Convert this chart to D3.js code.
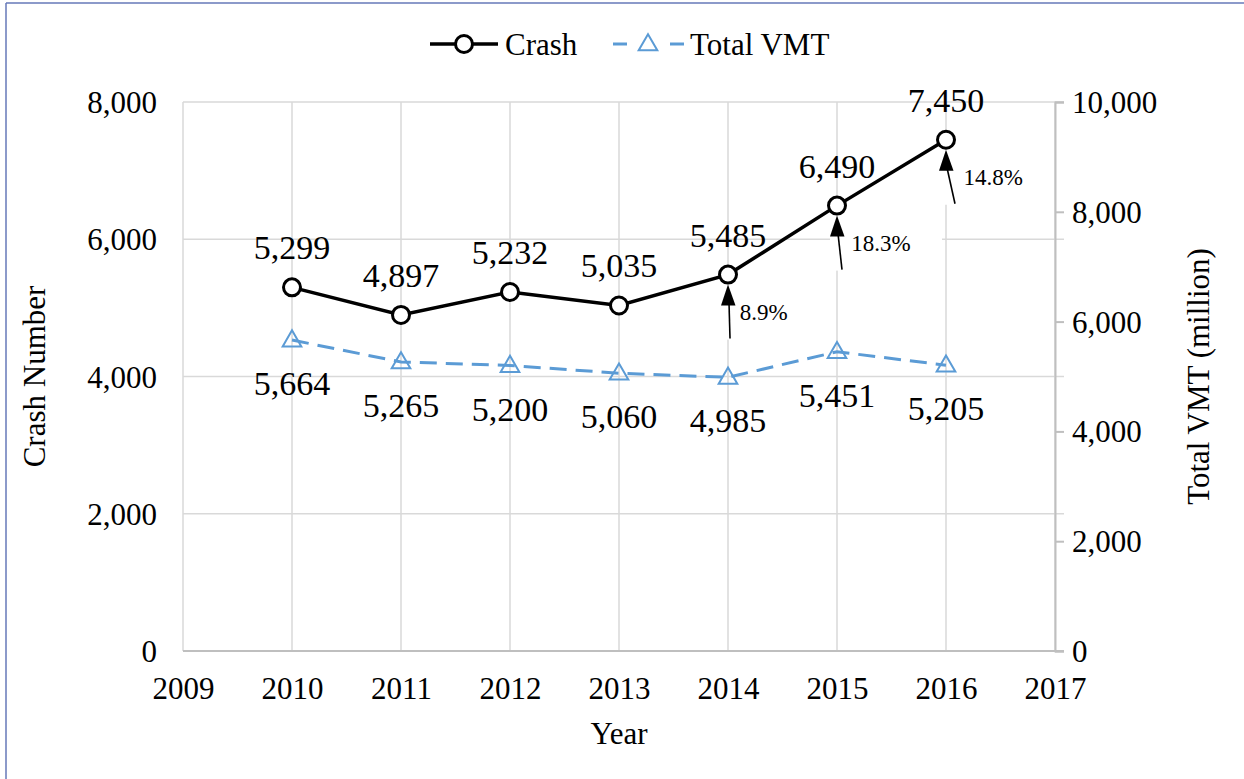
<!DOCTYPE html>
<html lang="en">
<head>
  <meta charset="UTF-8">
  <title>Crash Number and Total VMT</title>
  <style>
    body { margin: 0; background: #fff; }
    svg text { font-family: "Liberation Serif", "Times New Roman", serif; fill: #000; }
    .grid line { stroke: #d9d9d9; stroke-width: 1.5px; }
  </style>
</head>
<body>
  <svg width="1244" height="779"></svg>

  <script src="https://d3js.org/d3.v7.min.js"></script>
  <script>
    // data
    const years = [2010, 2011, 2012, 2013, 2014, 2015, 2016];
    const crash = [5299, 4897, 5232, 5035, 5485, 6490, 7450];
    const vmt = [5664, 5265, 5200, 5060, 4985, 5451, 5205];
    const xTicks = [2009, 2010, 2011, 2012, 2013, 2014, 2015, 2016, 2017];
    const leftTicks = [0, 2000, 4000, 6000, 8000];
    const rightTicks = [0, 2000, 4000, 6000, 8000, 10000];
    // growth annotations (year, label, lean of the arrow tail)
    const noteYears = [2014, 2015, 2016];
    const noteLabels = ["8.9%", "18.3%", "14.8%"];
    const noteLean = [1, 4, 8];

    const svg = d3.select("svg"),
          width = +svg.attr("width"),
          height = +svg.attr("height");

    const margin = { top: 102, right: 189, bottom: 128, left: 183 };
    const x = d3.scaleLinear().domain([2009, 2017]).range([margin.left, width - margin.right]);
    const yL = d3.scaleLinear().domain([0, 8000]).range([height - margin.bottom, margin.top]);
    const yR = d3.scaleLinear().domain([0, 10000]).range([height - margin.bottom, margin.top]);
    const fmt = d3.format(",");
    const blue = "#5b9bd5";

    // outer frame
    svg.append("line").attr("x1", 6).attr("x2", 6).attr("y1", 3).attr("y2", height)
      .attr("stroke", "#6678b8").attr("stroke-width", 1.5);
    svg.append("line").attr("x1", 6).attr("x2", width).attr("y1", 3).attr("y2", 3)
      .attr("stroke", "#6678b8").attr("stroke-width", 1.5);

    // gridlines
    const grid = svg.append("g").attr("class", "grid");
    grid.selectAll("line.h").data(leftTicks).join("line").attr("class", "h")
      .attr("x1", x(2009)).attr("x2", x(2017) + 9)
      .attr("y1", d => yL(d)).attr("y2", d => yL(d));
    grid.selectAll("line.v").data(xTicks).join("line").attr("class", "v")
      .attr("x1", d => x(d)).attr("x2", d => x(d))
      .attr("y1", yL(8000)).attr("y2", yL(0));

    // bottom axis line
    svg.append("line").attr("x1", x(2009)).attr("x2", x(2017) + 9)
      .attr("y1", yL(0)).attr("y2", yL(0))
      .attr("stroke", "#bfbfbf").attr("stroke-width", 2);

    // right axis
    const rAxis = svg.append("g")
      .attr("transform", `translate(${x(2017)},0)`)
      .call(d3.axisRight(yR).tickValues(rightTicks).tickSize(9).tickPadding(8).tickFormat(fmt));
    rAxis.select(".domain").attr("stroke", "#bfbfbf").attr("stroke-width", 2);
    rAxis.selectAll(".tick line").attr("stroke", "#bfbfbf").attr("stroke-width", 2);
    rAxis.selectAll(".tick text").attr("font-size", 31).attr("font-family", "Liberation Serif")
      .attr("fill", "#000").attr("dy", "0.34em");

    // left axis labels
    const lAxis = svg.append("g")
      .attr("transform", `translate(${x(2009)},0)`)
      .call(d3.axisLeft(yL).tickValues(leftTicks).tickSize(0).tickPadding(26).tickFormat(fmt));
    lAxis.select(".domain").remove();
    lAxis.selectAll(".tick text").attr("font-size", 31).attr("font-family", "Liberation Serif")
      .attr("fill", "#000").attr("dy", "0.34em");

    // bottom axis labels
    const bAxis = svg.append("g")
      .attr("transform", `translate(0,${yL(0)})`)
      .call(d3.axisBottom(x).tickValues(xTicks).tickSize(0).tickPadding(26).tickFormat(d3.format("d")));
    bAxis.select(".domain").remove();
    bAxis.selectAll(".tick text").attr("font-size", 31).attr("font-family", "Liberation Serif")
      .attr("fill", "#000");

    // axis titles
    svg.append("text").attr("x", (x(2009) + x(2017)) / 2).attr("y", 744)
      .attr("text-anchor", "middle").attr("font-size", 31).text("Year");
    svg.append("text")
      .attr("transform", `translate(45,${(yL(0) + yL(8000)) / 2}) rotate(-90)`)
      .attr("text-anchor", "middle").attr("font-size", 31).text("Crash Number");
    svg.append("text")
      .attr("transform", `translate(1209,${(yL(0) + yL(8000)) / 2}) rotate(-90)`)
      .attr("text-anchor", "middle").attr("font-size", 31).text("Total VMT (million)");

    const crashPts = years.map((yr, i) => ({ year: yr, v: crash[i] }));
    const vmtPts = years.map((yr, i) => ({ year: yr, v: vmt[i] }));

    // VMT line
    svg.append("path").datum(vmtPts)
      .attr("fill", "none").attr("stroke", blue).attr("stroke-width", 3)
      .attr("stroke-dasharray", "17,9")
      .attr("d", d3.line().x(d => x(d.year)).y(d => yR(d.v)));

    // crash line
    svg.append("path").datum(crashPts)
      .attr("fill", "none").attr("stroke", "#000").attr("stroke-width", 3.5)
      .attr("d", d3.line().x(d => x(d.year)).y(d => yL(d.v)));

    // growth annotations
    const notes = noteYears.map((yr, i) => ({
      px: x(yr), py: yL(crash[years.indexOf(yr)]), label: noteLabels[i], lean: noteLean[i]
    }));
    const ng = svg.append("g");
    ng.selectAll("rect").data(notes).join("rect")
      .attr("x", d => d.px - 7).attr("y", d => d.py + 10)
      .attr("width", 112).attr("height", 55).attr("fill", "#fff");
    ng.selectAll("line").data(notes).join("line")
      .attr("x1", d => d.px + d.lean + 1).attr("y1", d => d.py + 64)
      .attr("x2", d => d.px + 1).attr("y2", d => d.py + 28)
      .attr("stroke", "#000").attr("stroke-width", 1.6);
    ng.selectAll("path").data(notes).join("path")
      .attr("d", d => {
        const tx = d.px, ty = d.py + 10;
        return `M${tx},${ty} L${tx - 7},${ty + 21} L${tx + 7.5},${ty + 21} Z`;
      })
      .attr("fill", "#000");
    ng.selectAll("text").data(notes).join("text")
      .attr("x", d => d.px + 11 + d.lean * 0.8).attr("y", d => d.py + 45)
      .attr("font-size", 23).text(d => d.label);

    // markers
    svg.selectAll("circle.crash").data(crashPts).join("circle").attr("class", "crash")
      .attr("cx", d => x(d.year)).attr("cy", d => yL(d.v)).attr("r", 8.5)
      .attr("fill", "#fff").attr("stroke", "#000").attr("stroke-width", 3);
    const tri = d3.symbol().type(d3.symbolTriangle).size(150);
    svg.selectAll("path.vmt").data(vmtPts).join("path").attr("class", "vmt")
      .attr("transform", d => `translate(${x(d.year)},${yR(d.v) + 1})`)
      .attr("d", tri).attr("fill", "none").attr("stroke", blue).attr("stroke-width", 2);

    // data labels
    svg.selectAll("text.crash").data(crashPts).join("text").attr("class", "crash")
      .attr("x", d => x(d.year)).attr("y", d => yL(d.v) - 28)
      .attr("text-anchor", "middle").attr("font-size", 34).text(d => fmt(d.v));
    svg.selectAll("text.vmt").data(vmtPts).join("text").attr("class", "vmt")
      .attr("x", d => x(d.year)).attr("y", d => yR(d.v) + 55)
      .attr("text-anchor", "middle").attr("font-size", 34).text(d => fmt(d.v));

    // legend
    const lg = svg.append("g").attr("transform", "translate(0,44)");
    lg.append("line").attr("x1", 430).attr("x2", 498).attr("stroke", "#000").attr("stroke-width", 3.5);
    lg.append("circle").attr("cx", 464).attr("r", 8.5).attr("fill", "#fff")
      .attr("stroke", "#000").attr("stroke-width", 3);
    lg.append("text").attr("x", 505).attr("y", 11).attr("font-size", 31).text("Crash");
    lg.selectAll("line.dash").data([613, 670]).join("line").attr("class", "dash")
      .attr("x1", d => d).attr("x2", d => d + 14)
      .attr("stroke", blue).attr("stroke-width", 3);
    lg.append("path").attr("transform", "translate(648,1)").attr("d", tri)
      .attr("fill", "none").attr("stroke", blue).attr("stroke-width", 2);
    lg.append("text").attr("x", 690).attr("y", 11).attr("font-size", 31).text("Total VMT");
  </script>
</body>
</html>
